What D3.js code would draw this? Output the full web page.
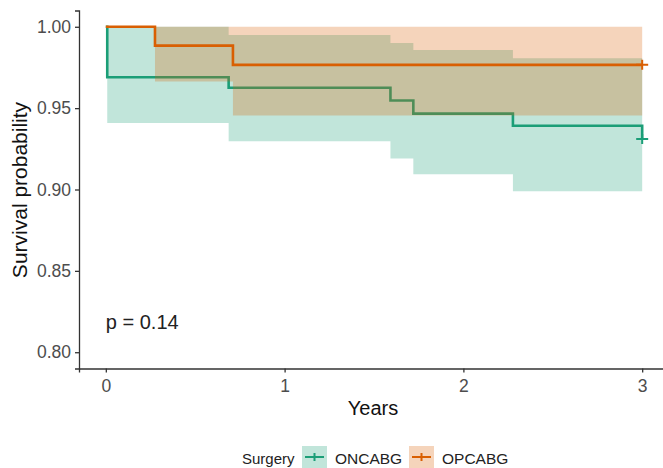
<!DOCTYPE html>
<html>
<head>
<meta charset="utf-8">
<script src="https://cdn.jsdelivr.net/npm/d3@7"></script>
<style>
  body { margin: 0; background: #fff; }
  svg { display: block; font-family: "Liberation Sans", Arial, sans-serif; }
</style>
</head>
<body>
<svg id="chart" width="663" height="468"></svg>
<script>
// Kaplan-Meier estimates
const groups = ['ONCABG', 'OPCABG'];
const colors = ['#1B9E77', '#D95F02'];

const onTime = [0, 0.008, 0.687, 1.592, 1.72, 2.277, 3.0];
const onSurv = [1.0, 0.969, 0.9625, 0.9547, 0.9466, 0.9392, 0.931];
const onUpper = [1.0, 1.0, 0.995, 0.990, 0.9857, 0.9806, 0.9806];
const onLower = [1.0, 0.9409, 0.9296, 0.919, 0.9093, 0.899, 0.890];

const opTime = [0, 0.275, 0.711, 3.0];
const opSurv = [1.0, 0.9884, 0.9766, 0.9766];
const opUpper = [1.0, 1.0, 1.0, 1.0];
const opLower = [1.0, 0.9663, 0.9455, 0.9455];

const censorTime = [3.0, 3.0];
const censorSurv = [0.931, 0.9766];

const xTicks = [0, 1, 2, 3];
const yTicks = [0.80, 0.85, 0.90, 0.95, 1.00];
const pLabel = 'p = 0.14';

const series = [
  { time: onTime, surv: onSurv, upper: onUpper, lower: onLower },
  { time: opTime, surv: opSurv, upper: opUpper, lower: opLower }
];

const svg = d3.select('#chart');
const x = d3.scaleLinear().domain([-0.15, 3.15]).range([79, 669]);
const y = d3.scaleLinear().domain([0.79, 1.01]).range([368.5, 10.5]);

const area = d3.area()
  .curve(d3.curveStepAfter)
  .x(d => x(d.t))
  .y0(d => y(d.lo))
  .y1(d => y(d.hi));

const line = d3.line()
  .curve(d3.curveStepAfter)
  .x(d => x(d.t))
  .y(d => y(d.s));

series.forEach((s, i) => {
  let pts = s.time.map((t, j) => ({ t: t, s: s.surv[j], lo: s.lower[j], hi: s.upper[j] }));
  svg.append('path')
    .attr('d', area(pts))
    .attr('fill', colors[i])
    .attr('fill-opacity', 0.27)
    .attr('stroke', 'none');
  svg.append('path')
    .attr('d', line(pts))
    .attr('fill', 'none')
    .attr('stroke', colors[i])
    .attr('stroke-width', 2.6);
});

// censor marks
censorTime.forEach((t, i) => {
  let cx = x(t), cy = y(censorSurv[i]);
  svg.append('path')
    .attr('d', `M${cx - 6},${cy}H${cx + 6}M${cx},${cy - 5}V${cy + 5}`)
    .attr('stroke', colors[i])
    .attr('stroke-width', 2);
});

// axes
const xAxis = svg.append('g').attr('transform', 'translate(0,368.5)')
  .call(d3.axisBottom(x).tickValues(xTicks).tickFormat(d3.format('d')).tickSizeOuter(0).tickSize(4).tickPadding(4));
const yAxis = svg.append('g').attr('transform', 'translate(79,0)')
  .call(d3.axisLeft(y).tickValues(yTicks).tickFormat(d3.format('.2f')).tickSizeOuter(0).tickSize(4).tickPadding(4));

[xAxis, yAxis].forEach(a => {
  a.select('.domain').attr('stroke', '#333').attr('stroke-width', 1.3);
  a.selectAll('.tick line').attr('stroke', '#333').attr('stroke-width', 1.3);
  a.selectAll('.tick text').attr('fill', '#4d4d4d').style('font-size', '17.5px')
    .style('font-family', '"Liberation Sans", Arial, sans-serif');
});
xAxis.selectAll('.tick text').attr('dy', '0.9em');

svg.append('text')
  .attr('x', 373).attr('y', 415)
  .attr('text-anchor', 'middle')
  .style('font-size', '20px')
  .attr('fill', '#111')
  .text('Years');

svg.append('text')
  .attr('transform', 'translate(27,190) rotate(-90)')
  .attr('text-anchor', 'middle')
  .style('font-size', '21px')
  .attr('fill', '#111')
  .text('Survival probability');

svg.append('text')
  .attr('x', x(0)).attr('y', 329)
  .style('font-size', '20px')
  .attr('fill', '#222')
  .text(pLabel);

// legend
const legend = svg.append('g');
legend.append('text')
  .attr('x', 242).attr('y', 464)
  .style('font-size', '15px')
  .attr('fill', '#222')
  .text('Surgery');

const keyX = [302, 409];
groups.forEach((g, i) => {
  let k = legend.append('g').attr('transform', `translate(${keyX[i]},446)`);
  k.append('rect')
    .attr('width', 25).attr('height', 22)
    .attr('fill', colors[i]).attr('fill-opacity', 0.27);
  k.append('path')
    .attr('d', 'M3,11H22M12.5,7V15')
    .attr('stroke', colors[i])
    .attr('stroke-width', 2);
  k.append('text')
    .attr('x', 33).attr('y', 18)
    .style('font-size', '15.5px')
    .attr('fill', '#222')
    .text(g);
});
</script>
</body>
</html>
